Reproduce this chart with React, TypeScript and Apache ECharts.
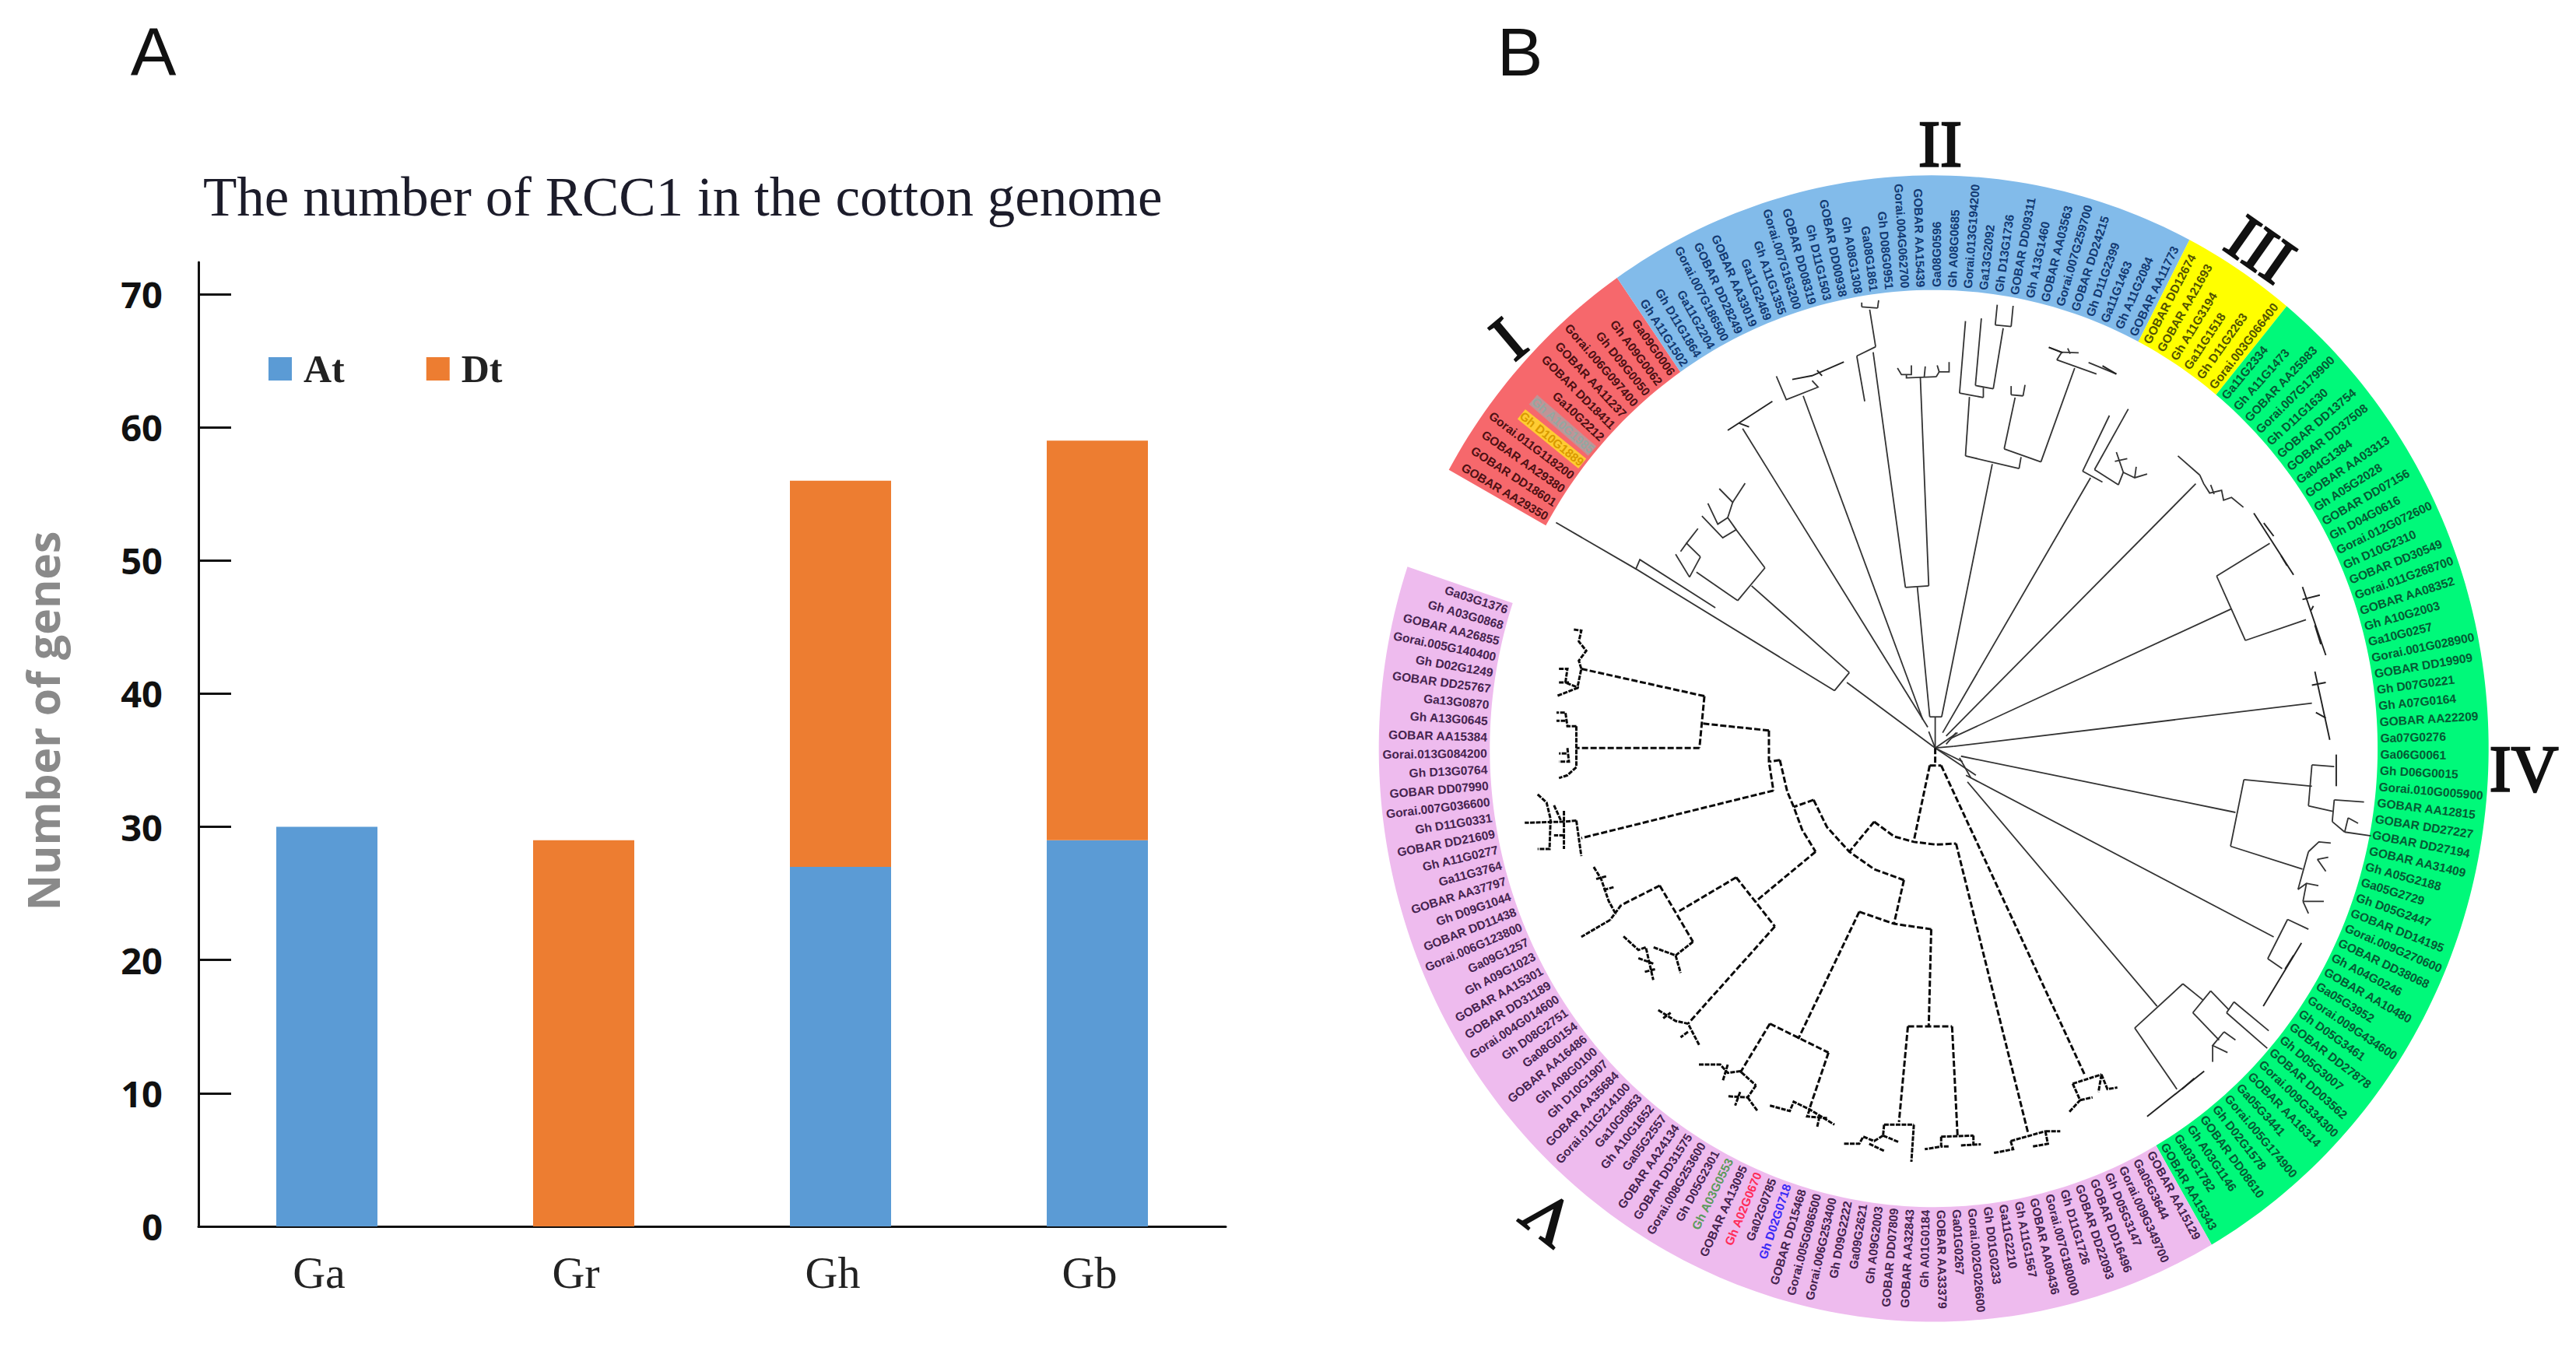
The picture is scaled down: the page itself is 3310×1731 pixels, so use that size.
import React, { useEffect, useRef } from "react";
import * as echarts from "echarts";

// ---------- Panel A data ----------
const genomes = ["Ga", "Gr", "Gh", "Gb"];
const atCounts = [30, 0, 27, 29];
const dtCounts = [0, 29, 29, 30];
const countTicks = [0, 10, 20, 30, 40, 50, 60, 70];

// ---------- Panel B data : gene labels clockwise from the lower end of clade I ----------
const cladeI = ["GOBAR AA29350", "GOBAR DD18601", "GOBAR AA29380", "Gorai.011G118200", "Gh D10G1889", "Gh A10G1985", "Ga10G2212", "GOBAR DD18411", "GOBAR AA11237", "Gorai.006G097400", "Gh D09G0050", "Gh A09G0062", "Ga09G0006"];
const cladeII = ["Gh A11G1502", "Gh D11G1864", "Ga11G2204", "Gorai.007G186500", "GOBAR DD28249", "GOBAR AA33019", "Ga11G2469", "Gh A11G1355", "Gorai.007G163200", "GOBAR DD08319", "Gh D11G1503", "GOBAR DD00938", "Gh A08G1308", "Ga08G1861", "Gh D08G0951", "Gorai.004G062700", "GOBAR AA15439", "Ga08G0596", "Gh A08G0685", "Gorai.013G194200", "Ga13G2092", "Gh D13G1736", "GOBAR DD09311", "Gh A13G1460", "GOBAR AA03563", "Gorai.007G259700", "GOBAR DD24215", "Gh D11G2399", "Ga11G1463", "Gh A11G2084", "GOBAR AA11773"];
const cladeIII = ["GOBAR DD12674", "GOBAR AA21693", "Gh A11G3194", "Ga11G1518", "Gh D11G2263", "Gorai.003G066400"];
const cladeIV = ["Ga11G2334", "Gh A11G1473", "GOBAR AA25983", "Gorai.007G179900", "Gh D11G1630", "GOBAR DD13754", "GOBAR DD37508", "Ga04G1384", "GOBAR AA03313", "Gh A05G2028", "GOBAR DD07156", "Gh D04G0616", "Gorai.012G072600", "Gh D10G2310", "GOBAR DD30549", "Gorai.011G268700", "GOBAR AA08352", "Gh A10G2003", "Ga10G0257", "Gorai.001G028900", "GOBAR DD19909", "Gh D07G0221", "Gh A07G0164", "GOBAR AA22209", "Ga07G0276", "Ga06G0061", "Gh D06G0015", "Gorai.010G005900", "GOBAR AA12815", "GOBAR DD27227", "GOBAR DD27194", "GOBAR AA31409", "Gh A05G2188", "Ga05G2729", "Gh D05G2447", "GOBAR DD14195", "Gorai.009G270600", "GOBAR DD38068", "Gh A04G0246", "GOBAR AA10480", "Ga05G3952", "Gorai.009G434600", "Gh D05G3461", "GOBAR DD27878", "Gh D05G3007", "GOBAR DD03562", "Gorai.009G334300", "GOBAR AA16314", "Ga05G3441", "Gorai.005G174900", "Gh D02G1578", "GOBAR DD08610", "Gh A03G1146", "Ga03G1782", "GOBAR AA15343"];
const cladeV = ["GOBAR AA15129", "Ga05G3644", "Gorai.009G349700", "Gh D05G3147", "GOBAR DD16496", "GOBAR DD22093", "Gh D11G1726", "Gorai.007G180000", "GOBAR AA09436", "Gh A11G1567", "Ga11G2210", "Gh D01G0233", "Gorai.002G026600", "Ga01G0267", "GOBAR AA33379", "Gh A01G0184", "GOBAR AA32843", "GOBAR DD07809", "Gh A09G2003", "Ga09G2621", "Gh D09G2222", "Gorai.006G253400", "Gorai.005G086500", "GOBAR DD15468", "Gh D02G0718", "Ga02G0785", "Gh A02G0670", "GOBAR AA13095", "Gh A03G0553", "Gh D05G2301", "Gorai.008G253600", "GOBAR DD31575", "GOBAR AA24134", "Ga05G2557", "Gh A10G1652", "Ga10G0853", "Gorai.011G214100", "GOBAR AA35684", "Gh D10G1907", "Gh A08G0100", "GOBAR AA16486", "Ga08G0154", "Gh D08G2751", "Gorai.004G014600", "GOBAR DD31189", "GOBAR AA15301", "Gh A09G1023", "Ga09G1257", "Gorai.006G123800", "GOBAR DD11438", "Gh D09G1044", "GOBAR AA37797", "Ga11G3764", "Gh A11G0277", "GOBAR DD21609", "Gh D11G0331", "Gorai.007G036600", "GOBAR DD07990", "Gh D13G0764", "Gorai.013G084200", "GOBAR AA15384", "Gh A13G0645", "Ga13G0870", "GOBAR DD25767", "Gh D02G1249", "Gorai.005G140400", "GOBAR AA26855", "Gh A03G0868", "Ga03G1376"];
const cladeGenes = [cladeI, cladeII, cladeIII, cladeIV, cladeV];
const cladeFill = ["#F6686C", "#82BBEA", "#FFFF00", "#00F97A", "#EEBBEE"];
const cladeInk = ["#4E1013", "#133A72", "#545400", "#055A34", "#45234F"];
const geneInk: Record<string, string> = { "Gh A03G0553": "#5C9A5C", "Gh A02G0670": "#FF2B58", "Gh D02G0718": "#3A2AF5", "Gh D10G1889": "#D89A00", "Gh A10G1985": "#93A8A2" };
const geneBack: Record<string, string> = { "Gh D10G1889": "#FFCC33", "Gh A10G1985": "#C09496" };

// ---------- Tree branches, in units of the hidden tree axes ----------
const solidBranches = [
  [[763,800],[763,743]],[[752,743],[776,743]],[[752,743],[727,505]],[[703,506],[750,503]],[[703,506],[638,75]],[[750,503],[733,120]],
  [[605,82],[643,65]],[[605,82],[621,165]],[[643,65],[631,-3]],[[615,-8],[647,-6]],[[615,-8],[615,-16]],[[647,-6],[649,-20]],
  [[687,104],[695,116],[715,116],[715,99]],[[705,116],[705,122],[765,120]],[[743,101],[741,120]],[[765,120],[771,111],[791,111],[791,93]],[[767,99],[771,111]],
  [[776,743],[878,280]],[[824,265],[932,288]],[[824,265],[832,157]],[[812,150],[860,158]],[[812,150],[824,18]],[[860,158],[860,140]],[[844,136],[880,142]],[[844,136],[856,13]],[[880,142],[900,31]],[[884,25],[916,28]],[[884,25],[888,-12]],[[916,28],[920,-10]],
  [[936,267],[932,288]],[[902,252],[976,276]],[[902,252],[924,158]],[[916,153],[940,155]],[[916,153],[916,137]],[[940,155],[944,135]],
  [[976,276],[1044,104]],[[1008,89],[1088,115]],[[1008,89],[1018,75],[992,66]],[[1018,75],[1052,76]],[[1035,78],[1030,68]],[[1072,94],[1128,115]],
  [[778,772],[1076,305]],[[1060,293],[1100,313]],[[1060,293],[1114,191]],[[1084,290],[1152,179]],[[1084,290],[1132,318]],[[1132,318],[1142,295],[1128,258]],[[1142,295],[1165,305],[1190,298]],[[1150,270],[1125,275]],[[1168,285],[1165,305]],
  [[785,778],[1288,316]],[[1252,265],[1296,300]],[[1296,300],[1304,316],[1316,333],[1340,328],[1344,346],[1360,341],[1384,359]],[[1318,318],[1325,335]],
  [[795,782],[1360,545]],[[1330,485],[1388,603]],[[1330,485],[1437,425]],[[1388,603],[1510,565]],
  [[800,797],[1522,718]],
  [[815,815],[1368,918]],[[1385,858],[1358,980]],[[1385,858],[1522,870]],[[1522,831],[1515,906]],[[1522,831],[1567,834]],[[1515,906],[1564,916]],[[1567,895],[1563,935]],[[1567,895],[1627,899]],[[1563,935],[1588,954]],[[1595,928],[1588,954]],[[1595,928],[1615,938]],[[1588,954],[1641,961]],
  [[1358,980],[1503,1022]],[[1515,990],[1494,1059]],[[1515,990],[1536,972],[1560,974]],[[1533,1004],[1550,1026]],[[1533,1004],[1555,1000]],[[1494,1059],[1511,1048],[1535,1052]],[[1504,1081],[1511,1048]],[[1504,1081],[1546,1081]],[[1504,1081],[1515,1103]],
  [[825,850],[1445,1146]],[[1473,1114],[1433,1186]],[[1473,1114],[1515,1132]],[[1433,1186],[1462,1204]],
  [[828,862],[1210,1273]],[[1262,1232],[1165,1313]],[[1165,1313],[1250,1425]],[[1262,1232],[1303,1262]],[[1318,1245],[1282,1285]],[[1318,1245],[1355,1280]],[[1365,1265],[1350,1285]],[[1365,1265],[1435,1318]],[[1350,1285],[1432,1350]],[[1282,1285],[1335,1335]],[[1345,1320],[1322,1345],[1352,1358]],[[1345,1320],[1368,1335]],[[1322,1345],[1322,1375]],
  [[763,800],[585,680]],[[560,695],[590,662]],[[560,695],[160,472],[168,455],[320,543]],[[160,472],[-1,387]],[[590,662],[393,503]],[[420,470],[365,530]],[[420,470],[362,400],[335,415],[293,375]],[[362,400],[345,378],[325,390],[305,352]],[[345,378],[355,350],[328,325]],[[355,350],[380,315]],
  [[365,530],[282,478]],[[290,450],[268,487]],[[268,487],[240,445]],[[290,450],[262,425],[250,440]],[[262,425],[285,398]],
  [[748,762],[375,215]],[[738,748],[497,155]],[[443,119],[463,162],[527,139],[515,127]],[[763,800],[750,770]],
  [[763,800],[808,772]],[[785,793],[805,772]],[[763,800],[800,797]],[[763,800],[818,825]],[[812,818],[835,855]],[[763,800],[845,850]],
];
const tipBars = [
  [[345,218],[435,165]],[[368,205],[388,212]],[[475,125],[515,118],[579,93]],[[525,108],[535,118]],
  [[1405,370],[1485,483]],[[1425,388],[1445,412]],[[1460,448],[1472,466]],[[1503,505],[1550,630]],[[1503,528],[1538,520]],[[1525,540],[1520,548]],[[1528,575],[1540,610]],[[1528,660],[1558,785]],[[1522,685],[1550,680]],[[1530,735],[1550,745]],
  [[1571,812],[1571,870]],[[1501,1157],[1424,1273]],[[1485,1180],[1468,1205]],[[1190,1475],[1305,1392]],[[1260,1425],[1285,1405]],
  [[992,66],[1020,76]],[[1100,100],[1128,115]],
];
const dashedBranches = [
  [[763,800],[763,830]],[[752,832],[775,832]],[[752,832],[720,970]],[[775,832],[1065,1400]],[[640,935],[680,962],[720,972],[765,977],[805,975]],[[805,975],[950,1505]],
  [[640,935],[590,990]],[[518,895],[545,945],[590,990],[640,1022],[700,1042]],[[518,895],[478,908]],[[450,822],[465,880],[478,908],[495,950],[522,990]],[[450,822],[430,825]],[[428,768],[428,825],[437,878]],
  [[428,768],[293,755]],[[298,705],[288,800]],[[298,705],[50,655]],[[288,800],[40,800]],[[437,878],[50,965]],
  [[522,990],[400,1082]],[[362,1037],[440,1127]],[[362,1037],[245,1100]],[[208,1052],[275,1155]],[[208,1052],[130,1088]],[[440,1127],[265,1305]],
  [[700,1042],[680,1122]],[[610,1100],[680,1122],[755,1132]],[[610,1100],[487,1333]],[[430,1305],[548,1358]],[[430,1305],[370,1395]],[[548,1358],[510,1460]],
  [[755,1132],[750,1310]],[[708,1310],[797,1310]],[[708,1310],[690,1485]],[[797,1310],[808,1510]],
];
const darkClades = [
  [[660,1490],[720,1490]],[[720,1490],[715,1558]],[[660,1490],[658,1510]],[[658,1510],[690,1522]],[[658,1510],[640,1520],[618,1512],[610,1525],[578,1525]],[[630,1525],[660,1538]],
  [[775,1512],[840,1510]],[[775,1512],[775,1530],[742,1535]],[[790,1530],[775,1530]],[[840,1510],[840,1528]],[[815,1528],[855,1526]],
  [[915,1520],[985,1502]],[[915,1520],[920,1535],[880,1542]],[[985,1502],[1015,1502]],[[985,1502],[990,1525],[960,1530]],
  [[1040,1415],[1098,1398]],[[1040,1415],[1055,1445],[1032,1468]],[[1098,1398],[1110,1425],[1130,1422]],[[1098,1398],[1092,1430]],[[1055,1445],[1080,1440]],
  [[287,1380],[330,1380],[345,1395],[370,1392],[402,1418]],[[345,1380],[335,1410]],[[402,1418],[385,1440],[345,1438]],[[385,1440],[405,1465]],[[370,1430],[360,1455]],
  [[430,1455],[470,1465],[478,1448],[510,1462],[560,1490]],[[510,1462],[505,1475],[545,1478]],[[530,1475],[525,1495]],
  [[205,1280],[240,1300],[265,1305],[288,1345]],[[215,1295],[230,1285]],[[265,1320],[250,1330]],
  [[35,583],[50,585],[45,605],[60,622],[45,640],[50,655],[42,690],[0,705]],[[5,655],[22,655],[18,680],[45,690]],[[5,680],[25,680]],
  [[40,760],[40,835]],[[40,760],[22,760],[18,735],[0,735]],[[18,750],[0,750]],[[40,835],[22,850],[5,855]],[[20,810],[5,810]],[[22,800],[25,825],[5,825]],
  [[40,933],[50,998]],[[40,933],[15,935]],[[15,915],[15,985]],[[15,935],[-64,937]],[[-38,885],[-20,900],[-12,930],[-14,985],[-38,985]],[[15,960],[-5,960]],[[-5,905],[10,935]],
  [[130,1088],[108,1115]],[[108,1115],[50,1146]],[[75,1018],[90,1040],[105,1080],[120,1105]],[[80,1040],[100,1035]],[[95,1060],[115,1055]],
  [[275,1155],[240,1180],[195,1165]],[[135,1145],[165,1170],[180,1165],[195,1225]],[[240,1180],[250,1212]],[[165,1185],[195,1195]],[[178,1210],[200,1205]],
];

// ---------- Drawing constants ----------
const RING = { cx: 760, cy: 801, rx: 1118, ry: 1050, inner: 0.8, anchor: 0.805, start: 209.1, step: 2.008 };
const PX_PER_X = 1000 / 1568;
const PX_PER_Y = 1100 / 1568;
const toRad = (d: number) => (d * Math.PI) / 180;
const ringPoint = (t: number, f: number) => [RING.cx + RING.rx * f * Math.cos(toRad(t)), RING.cy + RING.ry * f * Math.sin(toRad(t))];

const cladeSpans: number[][] = [];
const leaves: { text: string; clade: number; t: number }[] = [];
let running = 0;
cladeGenes.forEach((genes, clade) => {
  cladeSpans.push([RING.start + running * RING.step, RING.start + (running + genes.length) * RING.step, clade]);
  genes.forEach((text, i) => leaves.push({ text, clade, t: RING.start + (running + i + 0.5) * RING.step }));
  running += genes.length;
});

const branchSeries = (list: number[][][], stroke: string, lineWidth: number, lineDash?: number[]) => ({
  type: "custom" as const,
  coordinateSystem: "cartesian2d",
  xAxisIndex: 1,
  yAxisIndex: 1,
  silent: true,
  clip: false,
  data: list.map((_, i) => [i, i]),
  renderItem: (params: any, api: any) => ({
    type: "polyline",
    shape: { points: list[params.dataIndex].map((p) => api.coord(p)) },
    style: { stroke, lineWidth, fill: "none", lineDash: lineDash ?? null, lineJoin: "miter" },
  }),
});

const ringSeries = {
  type: "custom" as const,
  coordinateSystem: "cartesian2d",
  xAxisIndex: 1,
  yAxisIndex: 1,
  silent: true,
  clip: false,
  data: cladeSpans.map((_, i) => [i, i]),
  renderItem: (params: any, api: any) => {
    const [a, b, clade] = cladeSpans[params.dataIndex];
    const pts: number[][] = [];
    const n = Math.ceil((b - a) / 1);
    for (let i = 0; i <= n; i++) pts.push(api.coord(ringPoint(a + ((b - a) * i) / n, 1)));
    for (let i = n; i >= 0; i--) pts.push(api.coord(ringPoint(a + ((b - a) * i) / n, RING.inner)));
    return { type: "polygon", shape: { points: pts }, style: { fill: cladeFill[clade] } };
  },
};

const labelSeries = {
  type: "custom" as const,
  coordinateSystem: "cartesian2d",
  xAxisIndex: 1,
  yAxisIndex: 1,
  silent: true,
  clip: false,
  data: leaves.map((_, i) => [i, i]),
  renderItem: (params: any, api: any) => {
    const leaf = leaves[params.dataIndex];
    const [x, y] = api.coord(ringPoint(leaf.t, RING.anchor));
    const cosT = Math.cos(toRad(leaf.t));
    const right = cosT >= 0;
    const screen = Math.atan2(RING.ry * PX_PER_Y * Math.sin(toRad(leaf.t)), RING.rx * PX_PER_X * cosT);
    return {
      type: "text",
      x,
      y,
      rotation: right ? -screen : Math.PI - screen,
      style: {
        text: leaf.text,
        fill: geneInk[leaf.text] ?? cladeInk[leaf.clade],
        backgroundColor: geneBack[leaf.text],
        font: 'bold 15.5px "Liberation Sans"',
        align: right ? "left" : "right",
        verticalAlign: "middle",
      },
    };
  },
};

const romanFont = '"Liberation Serif"';
const numerals = [
  { text: "I", x: 1938, y: 435, rotation: 40 },
  { text: "II", x: 2493, y: 185, rotation: 0 },
  { text: "III", x: 2905, y: 320, rotation: -35 },
  { text: "IV", x: 3243, y: 988, rotation: 0 },
  { text: "V", x: 1989, y: 1566, rotation: 142 },
];
const panelLetters = [
  { text: "A", x: 197, y: 66 },
  { text: "B", x: 1953, y: 66 },
];

export default function App() {
  const ref = useRef<HTMLDivElement | null>(null);
  useEffect(() => {
    if (!ref.current) return;
    const chart = echarts.init(ref.current, undefined, { renderer: "svg" });
    chart.setOption({
      animation: false,
      backgroundColor: "#ffffff",
      title: {
        text: "The number of RCC1 in the cotton genome",
        left: 256,
        top: 212,
        textStyle: { fontFamily: "Liberation Serif", fontSize: 71, fontWeight: "normal", color: "#1c1c2a" },
      },
      legend: {
        left: 340,
        top: 444,
        itemWidth: 30,
        itemHeight: 30,
        itemGap: 105,
        icon: "rect",
        textStyle: { fontFamily: "Liberation Serif", fontWeight: "bold", fontSize: 50, color: "#222222", padding: [0, 0, 0, 10] },
        data: ["At", "Dt"],
      },
      grid: [
        { left: 255, top: 337, width: 1320, height: 1239 },
        { left: 2000, top: 400, width: 1000, height: 1100 },
      ],
      xAxis: [
        {
          type: "category",
          gridIndex: 0,
          data: genomes,
          axisLine: { lineStyle: { color: "#111111", width: 3 } },
          axisTick: { show: false },
          axisLabel: { fontFamily: "Liberation Serif", fontSize: 58, color: "#222222", margin: 30, padding: [0, 20, 0, 0] },
        },
        { type: "value", gridIndex: 1, min: 0, max: 1568, show: false },
      ],
      yAxis: [
        {
          type: "value",
          gridIndex: 0,
          min: 0,
          max: 72.4,
          interval: 10,
          name: "Number of genes",
          nameLocation: "middle",
          nameGap: 172,
          nameTextStyle: { fontFamily: "Open Sans", fontWeight: "bold", fontSize: 57, color: "#8a8a8a", padding: [0, 0, 0, 60] },
          axisLine: { show: true, lineStyle: { color: "#111111", width: 3 } },
          axisTick: { show: true, inside: true, length: 42, lineStyle: { color: "#111111", width: 3 }, customValues: countTicks },
          splitLine: { show: false },
          axisLabel: { fontFamily: "Open Sans", fontWeight: "bold", fontSize: 47, color: "#111111", margin: 46, customValues: countTicks },
        },
        { type: "value", gridIndex: 1, min: 0, max: 1568, inverse: true, show: false },
      ],
      series: [
        { name: "At", type: "bar", stack: "total", xAxisIndex: 0, yAxisIndex: 0, barWidth: 130, data: atCounts, itemStyle: { color: "#5B9BD5" } },
        { name: "Dt", type: "bar", stack: "total", xAxisIndex: 0, yAxisIndex: 0, barWidth: 130, data: dtCounts, itemStyle: { color: "#ED7D31" } },
        ringSeries,
        labelSeries,
        branchSeries(solidBranches, "#333333", 1.8),
        branchSeries(tipBars, "#222222", 1.9),
        branchSeries(dashedBranches, "#0a0a0a", 3, [8, 3]),
        branchSeries(darkClades, "#0a0a0a", 3, [6, 1.5]),
      ],
      graphic: [
        ...numerals.map((n) => ({
          type: "text",
          x: n.x,
          y: n.y,
          rotation: toRad(n.rotation),
          style: { text: n.text, font: `84px ${romanFont}`, fill: "#111111", stroke: "#111111", lineWidth: 2.5, align: "center", verticalAlign: "middle" },
        })),
        ...panelLetters.map((n) => ({
          type: "text",
          x: n.x,
          y: n.y,
          style: { text: n.text, font: '88px "Liberation Sans"', fill: "#111111", align: "center", verticalAlign: "middle" },
        })),
      ],
    });
    return () => chart.dispose();
  }, []);
  return <div ref={ref} style={{ position: "fixed", left: 0, top: 0, width: 3310, height: 1731 }} />;
}
